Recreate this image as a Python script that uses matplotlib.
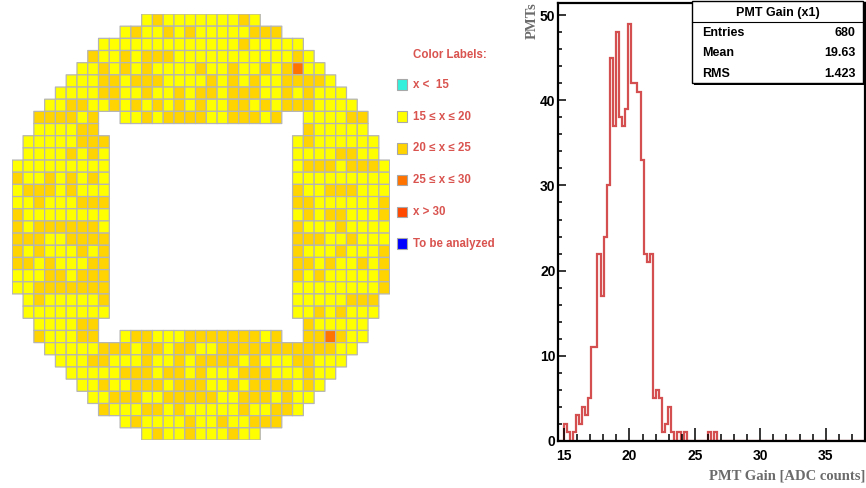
import numpy as np
import matplotlib
matplotlib.use("Agg")
import matplotlib.pyplot as plt
from matplotlib.colors import ListedColormap
from matplotlib.patches import Rectangle
from matplotlib.lines import Line2D
from matplotlib.ticker import MultipleLocator

plt.rcParams['font.family'] = ['Liberation Sans', 'DejaVu Sans']
plt.rcParams['font.weight'] = 'bold'

# gain class of every PMT on the 35x35 map, one string per row
# (spaces only for reading; . = no PMT, y = 15-20, g = 20-25, o = 25-30)
map_rows = [
    "..... ..... ..ygy yyyyy ygy.. ..... .....",
    "..... ..... ygyyg ygyyy yyggg ..... .....",
    "..... ...yy yyyyy yyyyy ygyyy yy... .....",
    "..... ..gyy gyggg yyyyy yyyyy ygy.. .....",
    "..... .yygy gygyy yygyy gyygy goyy. .....",
    "..... yyygg ygggy yyygy gygyy ggggy .....",
    "....y yyygg yygyy gyggy gggyy gygyy y....",
    "...yy ggyyg ygygy gygyy ggygy gggyy yy...",
    "..ggg gyg.. yygyg gggyy gggyg ..yyy ygg..",
    "..yyy ygg.. ..... ..... ..... ..gyy yyy..",
    ".yyyy yggg. ..... ..... ..... .ygyy yyyy.",
    ".yyyy gygy. ..... ..... ..... .yyyy ggyy.",
    "yyyyy yyyy. ..... ..... ..... .yggg ygggy",
    "gyygy gygy. ..... ..... ..... .yyyy yyyyy",
    "ygggy gyyy. ..... ..... ..... .gyyg ggyyy",
    "yygyy yggg. ..... ..... ..... .ggyy yyyyg",
    "gyyyy yyyy. ..... ..... ..... .ygyg gyyyg",
    "gyggg gggy. ..... ..... ..... .gyyy gyyyy",
    "gggyy gggg. ..... ..... ..... .gggy ygyyy",
    "gygyy ygyg. ..... ..... ..... .gyyy gyyyg",
    "ggygy yygg. ..... ..... ..... .ggyg yygyg",
    "yyygg yggg. ..... ..... ..... .gygy yyyyg",
    "yyggg gggg. ..... ..... ..... .yyyy yyyyg",
    ".ygyy yyyg. ..... ..... ..... .yyyy yggg.",
    ".yyyy yyyy. ..... ..... ..... .yygy gyyy.",
    "..yyy ygg.. ..... ..... ..... ..gyy yyy..",
    "..gyy ygg.. yggyy ygggg gggyg ..ggo gyy..",
    "...yy yyygg gyggy ggyyg ggggg ggggg yy...",
    "....y yyggy yygyy gyggg gygyy yggyy y....",
    "..... yyyyy gggyg gygyy ygggy yygyy .....",
    "..... .yygy ygggy gggyy gyggg gygy. .....",
    "..... ..yyg ggyyg ggggy ygggy gyy.. .....",
    "..... ...gy yyggy gyyyy ygyyg gy... .....",
    "..... ..... ygyyy ygyyg yyggg ..... .....",
    "..... ..... ..ygy ygyyy gyy.. ..... .....",
]

class_codes = {'c': 0, 'y': 1, 'g': 2, 'o': 3, 'r': 4, 'b': 5}
class_labels = ['x <  15', '15 \u2264 x \u2264 20', '20 \u2264 x \u2264 25',
                '25 \u2264 x \u2264 30', 'x > 30', 'To be analyzed']
class_colors = ['#33f0dc', '#ffff00', '#ffd400', '#ff7400', '#ff4800', '#0000ff']

# PMT gain histogram, 100 bins from 14.5 to 38 (bins past the list are empty)
hist_lo, hist_hi, hist_nbins = 14.5, 38.0, 100
hist_counts = [0, 0, 2, 1, 0, 1, 3, 2, 4, 3,
               5, 11, 11, 22, 17, 24, 30, 45, 37, 48,
               38, 37, 39, 49, 42, 42, 41, 33, 22, 21,
               22, 5, 6, 5, 1, 2, 4, 1, 0, 1,
               0, 1, 0, 0, 0, 0, 0, 0, 0, 1,
               0, 1]
stats_title = 'PMT Gain (x1)'
stats_names = ['Entries', 'Mean', 'RMS']
stats_values = ['680', '19.63', '1.423']

W, H = 866, 488
fig = plt.figure(figsize=(W / 100, H / 100), dpi=100)
fig.patch.set_facecolor('white')


def fx(px):
    return px / W


def fy(py):
    return 1 - py / H


# ---- PMT map ----
grid = []
for row in map_rows:
    cells = row.replace(' ', '')
    if len(cells) != 35:
        raise ValueError('bad row %r' % row)
    grid.append([class_codes.get(ch, -1) for ch in cells])
grid = np.ma.masked_less(np.array(grid), 0)

ax_map = fig.add_axes([fx(12.3), fy(440.0), fx(389.6) - fx(12.3), fy(14.0) - fy(440.0)])
# pcolor (not pcolormesh) leaves the masked cells out completely
ax_map.pcolor(grid, cmap=ListedColormap(class_colors), vmin=-0.5, vmax=5.5,
              edgecolors='#b5b5b5', linewidth=0.9)
ax_map.set_xlim(0, grid.shape[1])
ax_map.set_ylim(grid.shape[0], 0)
ax_map.axis('off')

label_red = '#d9534f'
fig.text(fx(450), fy(55.5), 'Color Labels:', ha='center', va='center',
         color=label_red, fontsize=8.3)
for i, (lab, col) in enumerate(zip(class_labels, class_colors)):
    yc = 84.7 + 31.8 * i
    fig.patches.append(Rectangle((fx(396.5), fy(yc + 5.3)), 10 / W, 10.6 / H,
                                 transform=fig.transFigure, facecolor=col,
                                 edgecolor='#a8a8a8', lw=0.8))
    fig.text(fx(413.3), fy(yc), lab, ha='left', va='center',
             color=label_red, fontsize=8.3)

# ---- gain histogram ----
counts = np.zeros(hist_nbins)
counts[:len(hist_counts)] = hist_counts
edges = np.linspace(hist_lo, hist_hi, hist_nbins + 1)

ax_h = fig.add_axes([fx(557.5), fy(440.7), fx(865) - fx(557.5), fy(3) - fy(440.7)])
ax_h.stairs(counts, edges, color='#d45050', lw=1.6)
ax_h.set_xlim(hist_lo, hist_hi)
ax_h.set_ylim(0, 1.05 * counts.max())

ax_h.xaxis.set_major_locator(MultipleLocator(5))
ax_h.xaxis.set_minor_locator(MultipleLocator(1))
ax_h.yaxis.set_major_locator(MultipleLocator(10))
ax_h.yaxis.set_minor_locator(MultipleLocator(2))
ax_h.tick_params(which='both', direction='in', width=1.1, labelsize=10)
ax_h.tick_params(axis='x', which='major', length=9.4, pad=6)
ax_h.tick_params(axis='x', which='minor', length=4.7)
ax_h.tick_params(axis='y', which='major', length=6, pad=1.5)
ax_h.tick_params(axis='y', which='minor', length=3)
for sp in ax_h.spines.values():
    sp.set_linewidth(1.6)

axis_gray = '#6b6b6b'
serif = ['Liberation Serif', 'DejaVu Serif']
fig.text(fx(865), fy(476), 'PMT Gain [ADC counts]', ha='right', va='center',
         family=serif, color=axis_gray, fontsize=10.5)
fig.text(fx(532), fy(2), 'PMTs', ha='center', va='top', rotation=90,
         family=serif, color=axis_gray, fontsize=10.5)

# stats box
bx0, bx1, by0, by1 = 691.7, 863.3, 0.8, 83.0
fig.patches.append(Rectangle((fx(bx0 + 2.5), fy(by1 + 2.5)), (bx1 - bx0) / W, (by1 - by0) / H,
                             transform=fig.transFigure, facecolor='black', edgecolor='none'))
fig.patches.append(Rectangle((fx(bx0), fy(by1)), (bx1 - bx0) / W, (by1 - by0) / H,
                             transform=fig.transFigure, facecolor='white',
                             edgecolor='black', lw=1.0))
fig.add_artist(Line2D([fx(bx0), fx(bx1)], [fy(21.7), fy(21.7)],
                      transform=fig.transFigure, color='black', lw=0.8))
fig.text(fx((bx0 + bx1) / 2), fy(12.8), stats_title, ha='center', va='center', fontsize=9)
for i, (name, val) in enumerate(zip(stats_names, stats_values)):
    yc = 32.8 + 20.5 * i
    fig.text(fx(701.7), fy(yc), name, ha='left', va='center', fontsize=9)
    fig.text(fx(855.5), fy(yc), val, ha='right', va='center', fontsize=9)

fig.savefig('out.png', dpi=100)
